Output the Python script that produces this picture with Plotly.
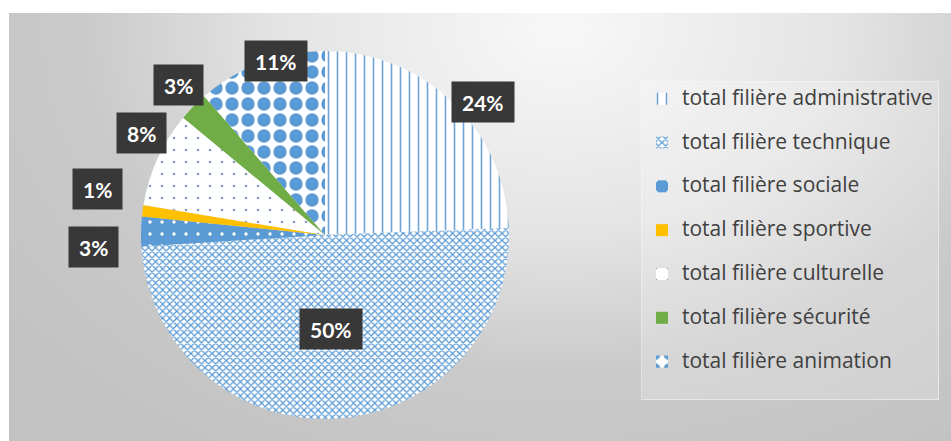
import base64
import math
import plotly.graph_objects as go

# Share of staff per branch (percent)
categories = [
    "total filière administrative",
    "total filière technique",
    "total filière sociale",
    "total filière sportive",
    "total filière culturelle",
    "total filière sécurité",
    "total filière animation",
]
shares = [24.4, 49.6, 2.6, 1.0, 8.4, 2.6, 11.4]

BLUE = "#5b9bd5"
patterns = [
    dict(shape="|", fgcolor="#6fa5d8", bgcolor="white", size=9, solidity=0.18),
    dict(shape="x", fgcolor=BLUE, bgcolor="white", size=5, solidity=0.45),
    dict(shape=".", fgcolor="white", bgcolor=BLUE, size=12, solidity=0.06),
    dict(shape="", fgcolor="#ffc000", bgcolor="#ffc000"),
    dict(shape=".", fgcolor="#8a9cbc", bgcolor="white", size=12, solidity=0.04),
    dict(shape="", fgcolor="#70ad47", bgcolor="#70ad47"),
    dict(shape=".", fgcolor=BLUE, bgcolor="white", size=16, solidity=0.55),
]
solid = [BLUE, BLUE, BLUE, "#ffc000", "white", "#70ad47", BLUE]

W, H = 951, 441
CX, CY, R = 325, 235, 184  # pie centre and radius in pixels

# Background panel: soft radial grey gradient
svg = f"""<svg xmlns='http://www.w3.org/2000/svg' width='942' height='428' viewBox='0 0 942 428'>
<defs><radialGradient id='g' gradientUnits='userSpaceOnUse' cx='551' cy='17' r='700'
 gradientTransform='translate(551 17) scale(1 0.72) translate(-551 -17)'>
<stop offset='0' stop-color='#f8f8f8'/>
<stop offset='0.4' stop-color='#e4e4e4'/>
<stop offset='0.68' stop-color='#cacaca'/>
<stop offset='1' stop-color='#c2c2c2'/>
</radialGradient></defs>
<rect width='942' height='428' fill='url(#g)'/></svg>"""
bg_src = "data:image/svg+xml;base64," + base64.b64encode(svg.encode()).decode()

legend_labels = [
    f"<span style='font-size:21px'>{c}</span><br> " for c in categories
]

fig = go.Figure(
    go.Pie(
        labels=legend_labels,
        values=shares,
        sort=False,
        direction="clockwise",
        rotation=0,
        textinfo="none",
        hoverinfo="label+percent",
        marker=dict(colors=solid, pattern=dict(
            shape=[p["shape"] for p in patterns],
            fgcolor=[p["fgcolor"] for p in patterns],
            bgcolor=[p["bgcolor"] for p in patterns],
            size=[p.get("size", 8) for p in patterns],
            solidity=[p.get("solidity", 0.3) for p in patterns],
        ), line=dict(width=0)),
        domain=dict(
            x=[(CX - R) / W, (CX + R) / W],
            y=[1 - (CY + R) / H, 1 - (CY - R) / H],
        ),
    )
)

# Percentage labels in dark boxes, placed around each slice's mid-angle
label_radius = [1.125, 0.51, 1.26, 1.26, 1.14, 1.14, 0.98]
label_turn = [6, -1, -4, 4, 4.5, 1.3, 4.8]
total = sum(shares)
annotations = []
start = 0.0
for v, f, dt in zip(shares, label_radius, label_turn):
    span = 360 * v / total
    theta = math.radians(start + span / 2 + dt)
    start += span
    xp = CX + R * f * math.sin(theta)
    yp = CY - R * f * math.cos(theta)
    annotations.append(dict(
        x=xp / W, y=1 - yp / H, xref="paper", yref="paper",
        xanchor="center", yanchor="middle",
        showarrow=False, height=20, borderpad=10,
        text=f"<b>{100 * v / total:.0f}%</b>",
        font=dict(family="Lato", size=21, color="white"),
        bgcolor="#383838",
    ))

fig.update_layout(
    width=W,
    height=H,
    margin=dict(l=0, r=0, t=0, b=0),
    paper_bgcolor="white",
    images=[dict(source=bg_src, xref="paper", yref="paper",
                 x=9 / W, y=1 - 13 / H, sizex=942 / W, sizey=428 / H,
                 xanchor="left", yanchor="top", sizing="stretch",
                 layer="below")],
    showlegend=True,
    legend=dict(
        x=641 / W, y=1 - 81 / H, xanchor="left", yanchor="top",
        font=dict(family="Open Sans", size=15.7, color="#404040"),
        valign="top",
        bgcolor="rgba(255,255,255,0.22)",
        bordercolor="rgba(255,255,255,0.45)",
        borderwidth=1,
        traceorder="normal",
    ),
    annotations=annotations,
)

fig.write_html("out.html")
